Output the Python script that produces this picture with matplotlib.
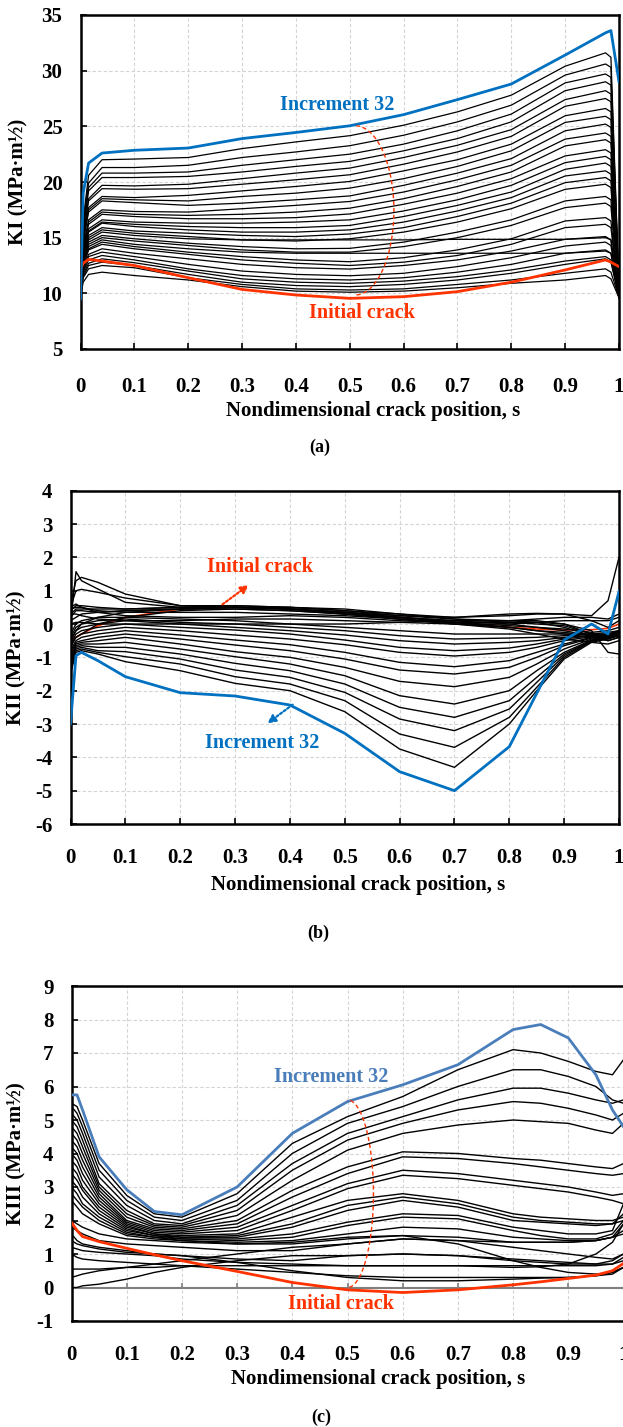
import matplotlib.pyplot as plt
import numpy as np

# ================= data =================
# (a) KI, positions along the crack front
S_A = [0, 0.005, 0.015, 0.04, 0.1, 0.2, 0.3, 0.4, 0.5, 0.6, 0.7, 0.8, 0.9, 0.975, 0.985, 1.0]
KI_INITIAL = [12.2, 12.7, 13.05, 12.9, 12.5, 11.4, 10.35, 9.85, 9.55, 9.7, 10.15, 11.0, 12.1, 13.0, 12.8, 12.4]
KI_INC32 = [9.5, 19.0, 21.7, 22.6, 22.85, 23.05, 23.9, 24.45, 25.05, 26.05, 27.4, 28.8, 31.4, 33.4, 33.6, 29.0]
KI_STEPS = [
    [9.7, 16.6, 20.6, 22.0, 22.06, 22.2, 23.0, 23.6, 24.16, 25.1, 26.3, 27.8, 30.4, 31.6, 31.2, 10.5],
    [9.7, 16.2, 19.9, 21.3, 21.3, 21.5, 22.2, 22.7, 23.26, 24.2, 25.4, 26.9, 29.6, 30.6, 30.3, 10.4],
    [9.7, 15.9, 19.5, 20.8, 20.8, 20.9, 21.5, 22.0, 22.5, 23.4, 24.6, 26.1, 28.9, 29.7, 29.4, 10.3],
    [9.7, 15.7, 19.2, 20.4, 20.4, 20.5, 20.9, 21.4, 21.85, 22.8, 23.9, 25.4, 28.2, 29.0, 28.7, 10.3],
    [9.7, 15.3, 18.5, 19.7, 19.65, 19.8, 20.3, 20.8, 21.25, 22.2, 23.3, 24.7, 27.4, 28.2, 27.9, 10.2],
    [9.7, 15.2, 18.3, 19.4, 19.35, 19.4, 19.8, 20.2, 20.65, 21.6, 22.7, 24.1, 26.8, 27.5, 27.2, 10.2],
    [9.7, 14.8, 17.7, 18.7, 18.6, 18.8, 19.2, 19.6, 20.05, 21.0, 22.0, 23.4, 25.95, 26.6, 26.3, 10.1],
    [9.7, 14.7, 17.5, 18.5, 18.4, 18.3, 18.7, 19.0, 19.45, 20.3, 21.4, 22.8, 25.35, 25.9, 25.6, 10.1],
    [9.7, 14.6, 17.3, 18.3, 18.15, 17.9, 18.1, 18.4, 18.75, 19.7, 20.8, 22.1, 24.6, 25.2, 24.9, 10.0],
    [9.7, 14.1, 16.6, 17.5, 17.35, 17.3, 17.6, 17.9, 18.25, 19.1, 20.2, 21.5, 23.85, 24.4, 24.1, 10.0],
    [9.7, 14.0, 16.4, 17.3, 17.1, 17.0, 17.1, 17.3, 17.65, 18.5, 19.6, 20.9, 23.24, 23.8, 23.5, 10.0],
    [9.7, 13.9, 16.2, 17.1, 16.9, 16.7, 16.7, 16.8, 17.13, 18.0, 19.0, 20.3, 22.34, 22.9, 22.6, 9.9],
    [9.7, 13.6, 15.8, 16.6, 16.4, 16.3, 16.3, 16.4, 16.6, 17.4, 18.4, 19.7, 21.74, 22.3, 22.0, 9.9],
    [9.7, 13.5, 15.6, 16.4, 16.2, 16.0, 15.9, 15.9, 16.1, 16.9, 17.9, 19.1, 21.14, 21.7, 21.4, 9.9],
    [9.7, 13.5, 15.5, 16.3, 16.0, 15.7, 15.5, 15.5, 15.7, 16.4, 17.4, 18.6, 20.54, 21.0, 20.7, 9.8],
    [9.7, 13.2, 15.2, 15.9, 15.6, 15.4, 15.2, 15.1, 15.33, 15.9, 16.9, 18.1, 19.94, 20.4, 20.1, 9.8],
    [9.7, 13.1, 15.0, 15.7, 15.4, 15.1, 14.8, 14.7, 14.9, 15.5, 16.4, 17.6, 19.34, 19.8, 19.5, 9.8],
    [9.7, 13.0, 14.8, 15.5, 15.2, 14.9, 14.8, 14.8, 14.8, 14.8, 14.85, 14.85, 14.85, 15.0, 14.8, 9.8],
    [9.7, 12.9, 14.6, 15.2, 14.9, 14.5, 14.2, 14.0, 14.04, 14.6, 15.5, 16.6, 18.3, 18.7, 18.4, 9.7],
    [9.7, 12.75, 14.4, 15.0, 14.7, 14.3, 13.9, 13.7, 13.7, 14.2, 15.0, 16.1, 17.7, 18.1, 17.8, 9.7],
    [9.7, 12.6, 14.2, 14.8, 14.4, 14.0, 13.7, 13.6, 13.6, 13.6, 13.6, 13.6, 13.6, 13.8, 13.6, 9.7],
    [9.7, 12.5, 14.0, 14.6, 14.2, 13.7, 13.3, 13.0, 12.84, 13.2, 13.9, 14.9, 16.5, 16.8, 16.5, 9.7],
    [9.7, 12.4, 13.9, 14.4, 14.0, 13.5, 13.0, 12.7, 12.5, 12.8, 13.4, 14.4, 15.9, 16.2, 15.9, 9.7],
    [9.7, 12.2, 13.5, 14.0, 13.6, 13.1, 12.6, 12.3, 12.18, 12.5, 13.0, 13.8, 14.85, 15.1, 14.8, 9.6],
    [9.7, 12.0, 13.3, 13.7, 13.3, 12.6, 12.0, 11.7, 11.58, 11.8, 12.4, 13.2, 14.25, 14.6, 14.3, 9.6],
    [9.7, 11.9, 13.0, 13.4, 13.0, 12.2, 11.6, 11.3, 11.2, 11.4, 11.9, 12.6, 13.6, 13.9, 13.6, 9.6],
    [9.7, 11.7, 12.7, 13.1, 12.75, 12.0, 11.3, 11.0, 10.9, 11.1, 11.5, 12.1, 12.9, 13.3, 13.0, 9.6],
    [9.7, 11.5, 12.5, 12.8, 12.5, 11.7, 11.0, 10.7, 10.6, 10.8, 11.2, 11.8, 12.6, 13.1, 12.8, 9.6],
    [9.7, 11.4, 12.2, 12.5, 12.3, 11.4, 10.8, 10.4, 10.3, 10.4, 10.8, 11.2, 11.8, 12.2, 11.9, 9.6],
    [9.7, 11.0, 11.7, 11.9, 11.6, 11.2, 10.6, 10.2, 10.1, 10.2, 10.5, 10.9, 11.2, 11.6, 11.3, 9.6],
]

# (b) KII
S_B = [0, 0.01, 0.02, 0.05, 0.1, 0.2, 0.3, 0.4, 0.5, 0.6, 0.7, 0.8, 0.85, 0.9, 0.95, 0.98, 1.0]
KII_INITIAL = [-0.45, -0.4, -0.3, -0.05, 0.2, 0.45, 0.5, 0.45, 0.35, 0.2, 0.05, -0.1, -0.15, -0.18, -0.17, -0.13, 0.0]
KII_INC32 = [-3.0, -0.95, -0.85, -1.1, -1.58, -2.06, -2.16, -2.43, -3.28, -4.43, -5.0, -3.68, -2.08, -0.48, 0.0, -0.3, 0.97]
KII_STEPS = [
    [0.0, 1.57, 1.3, 1.05, 0.65, 0.5, 0.5, 0.45, 0.35, 0.2, 0.1, 0.1, 0.1, 0.0, -0.3, -0.4, -0.3],
    [0.6, 1.3, 1.4, 1.25, 0.9, 0.55, 0.55, 0.5, 0.4, 0.25, 0.15, 0.1, 0.05, -0.1, -0.35, -0.5, -0.4],
    [0.5, 1.0, 1.04, 0.95, 0.78, 0.55, 0.5, 0.5, 0.45, 0.3, 0.2, 0.25, 0.3, 0.3, 0.25, 0.7, 2.0],
    [0.4, 0.55, 0.55, 0.5, 0.45, 0.5, 0.55, 0.5, 0.4, 0.3, 0.15, 0.05, 0.0, -0.05, -0.3, -0.35, -0.2],
    [0.3, 0.45, 0.45, 0.45, 0.45, 0.5, 0.5, 0.45, 0.35, 0.25, 0.2, 0.3, 0.32, 0.3, 0.1, -0.1, 0.1],
    [0.2, 0.4, 0.4, 0.35, 0.4, 0.45, 0.5, 0.45, 0.3, 0.2, 0.1, 0.0, -0.1, -0.2, -0.35, -0.4, -0.3],
    [-0.5, -0.2, 0.0, 0.2, 0.35, 0.45, 0.5, 0.45, 0.35, 0.2, 0.05, -0.1, -0.2, -0.3, -0.4, -0.5, -0.4],
    [-0.6, -0.4, -0.3, 0.0, 0.2, 0.4, 0.45, 0.4, 0.3, 0.15, 0.0, -0.15, -0.3, -0.45, -0.55, -0.6, -0.5],
    [0.3, 0.3, 0.25, 0.15, 0.1, 0.1, 0.15, 0.15, 0.1, 0.05, 0.0, 0.0, 0.05, 0.1, 0.1, 0.1, 0.2],
    [0.0, 0.05, 0.05, 0.0, 0.0, 0.0, 0.0, 0.0, 0.0, 0.05, 0.1, 0.1, 0.15, 0.2, 0.2, 0.15, 0.3],
    [0.5, 0.6, 0.5, 0.35, 0.25, 0.2, 0.2, 0.25, 0.2, 0.1, 0.05, 0.05, 0.05, 0.0, -0.2, -0.85, -0.9],
    [0.45, 0.5, 0.5, 0.4, 0.35, 0.35, 0.35, 0.3, 0.25, 0.15, 0.05, -0.05, -0.1, -0.15, -0.25, -0.2, -0.1],
    [0.1, 0.2, 0.3, 0.35, 0.4, 0.45, 0.45, 0.4, 0.3, 0.15, 0.0, -0.1, -0.2, -0.25, -0.35, -0.45, -0.3],
    [-0.3, 0.0, 0.1, 0.2, 0.2, 0.15, 0.1, 0.0, -0.1, -0.2, -0.3, -0.3, -0.3, -0.3, -0.3, -0.25, -0.2],
    [-0.4, -0.1, 0.0, 0.1, 0.15, 0.05, 0.0, -0.1, -0.2, -0.35, -0.45, -0.42, -0.4, -0.35, -0.3, -0.3, -0.2],
    [-0.5, -0.2, -0.1, 0.0, 0.1, 0.0, -0.1, -0.2, -0.33, -0.5, -0.6, -0.55, -0.5, -0.4, -0.35, -0.3, -0.25],
    [-0.6, -0.3, -0.2, -0.1, 0.0, -0.1, -0.18, -0.3, -0.48, -0.7, -0.8, -0.72, -0.6, -0.45, -0.35, -0.3, -0.3],
    [-0.7, -0.4, -0.3, -0.2, -0.1, -0.2, -0.33, -0.45, -0.62, -0.85, -0.96, -0.85, -0.7, -0.5, -0.38, -0.32, -0.3],
    [-0.8, -0.5, -0.4, -0.3, -0.2, -0.33, -0.48, -0.62, -0.85, -1.15, -1.28, -1.1, -0.85, -0.6, -0.4, -0.35, -0.3],
    [-0.9, -0.55, -0.5, -0.4, -0.3, -0.45, -0.63, -0.8, -1.05, -1.38, -1.5, -1.3, -1.0, -0.65, -0.42, -0.35, -0.3],
    [-1.0, -0.6, -0.55, -0.5, -0.4, -0.6, -0.83, -1.0, -1.3, -1.72, -1.88, -1.6, -1.2, -0.75, -0.45, -0.38, -0.35],
    [-1.1, -0.65, -0.6, -0.6, -0.55, -0.75, -0.98, -1.2, -1.55, -2.15, -2.4, -2.0, -1.4, -0.85, -0.48, -0.4, -0.35],
    [-1.2, -0.7, -0.65, -0.7, -0.7, -0.9, -1.18, -1.4, -1.8, -2.5, -2.8, -2.3, -1.6, -0.9, -0.5, -0.4, -0.35],
    [-1.3, -0.75, -0.7, -0.8, -0.83, -1.05, -1.38, -1.6, -2.05, -2.85, -3.2, -2.55, -1.75, -0.95, -0.5, -0.42, -0.35],
    [-1.4, -0.8, -0.75, -0.85, -0.98, -1.2, -1.58, -1.8, -2.3, -3.3, -3.7, -2.8, -1.9, -1.0, -0.52, -0.42, -0.35],
    [-1.5, -0.85, -0.8, -0.9, -1.13, -1.4, -1.78, -2.0, -2.63, -3.75, -4.3, -3.0, -2.0, -1.05, -0.55, -0.45, -0.35],
]

# (c) KIII
S_C = [0, 0.01, 0.02, 0.05, 0.1, 0.15, 0.2, 0.3, 0.4, 0.5, 0.6, 0.7, 0.8, 0.85, 0.9, 0.95, 0.98, 1.0]
KIII_INITIAL = [1.94, 1.7, 1.52, 1.37, 1.17, 0.98, 0.8, 0.48, 0.15, -0.07, -0.15, -0.07, 0.08, 0.17, 0.27, 0.37, 0.5, 0.72]
KIII_INC32 = [5.75, 5.75, 5.3, 3.9, 2.92, 2.27, 2.17, 3.0, 4.6, 5.55, 6.05, 6.65, 7.7, 7.85, 7.45, 6.35, 5.3, 4.8]
KIII_STEPS = [
    [5.5, 5.4, 5.0, 3.7, 2.75, 2.2, 2.1, 2.8, 4.3, 5.1, 5.7, 6.5, 7.1, 7.0, 6.75, 6.45, 6.35, 6.8],
    [5.4, 5.2, 4.8, 3.5, 2.6, 2.1, 2.0, 2.6, 4.0, 4.9, 5.4, 6.0, 6.5, 6.5, 6.3, 6.0, 5.6, 5.5],
    [5.2, 5.0, 4.6, 3.3, 2.45, 2.0, 1.9, 2.45, 3.7, 4.6, 5.1, 5.6, 5.95, 5.95, 5.8, 5.6, 5.5, 5.6],
    [5.0, 4.8, 4.4, 3.1, 2.3, 1.9, 1.85, 2.3, 3.5, 4.4, 4.9, 5.3, 5.55, 5.5, 5.35, 5.15, 5.0, 5.2],
    [4.8, 4.6, 4.2, 3.0, 2.2, 1.85, 1.8, 2.15, 3.2, 4.1, 4.6, 4.85, 5.0, 4.95, 4.9, 4.7, 4.6, 4.9],
    [4.6, 4.4, 4.0, 2.9, 2.1, 1.8, 1.75, 2.0, 2.9, 3.6, 4.05, 4.0, 3.85, 3.8, 3.7, 3.6, 3.55, 3.7],
    [4.4, 4.2, 3.8, 2.8, 2.0, 1.75, 1.7, 1.9, 2.7, 3.4, 3.9, 3.85, 3.7, 3.6, 3.5, 3.4, 3.35, 3.4],
    [4.2, 4.0, 3.6, 2.7, 1.95, 1.7, 1.65, 1.8, 2.45, 3.1, 3.5, 3.4, 3.2, 3.1, 3.0, 2.85, 2.75, 2.8],
    [4.0, 3.8, 3.4, 2.6, 1.9, 1.65, 1.6, 1.7, 2.3, 2.95, 3.35, 3.25, 3.05, 2.95, 2.85, 2.7, 2.6, 2.5],
    [3.8, 3.6, 3.2, 2.5, 1.85, 1.6, 1.55, 1.6, 2.1, 2.6, 2.8, 2.6, 2.2, 2.1, 2.05, 2.0, 2.0, 2.1],
    [3.6, 3.4, 3.0, 2.4, 1.8, 1.6, 1.5, 1.55, 1.9, 2.45, 2.7, 2.5, 2.1, 2.0, 1.95, 1.9, 1.9, 2.0],
    [3.4, 3.2, 2.9, 2.3, 1.75, 1.55, 1.5, 1.5, 1.8, 2.3, 2.6, 2.4, 2.0, 1.95, 1.9, 1.85, 1.9, 2.2],
    [3.2, 3.0, 2.7, 2.2, 1.7, 1.55, 1.45, 1.45, 1.6, 1.95, 2.2, 2.15, 1.8, 1.7, 1.6, 1.6, 1.7, 2.5],
    [3.0, 2.8, 2.5, 2.1, 1.65, 1.5, 1.45, 1.4, 1.5, 1.85, 2.1, 2.05, 1.7, 1.55, 1.45, 1.45, 1.6, 2.0],
    [2.8, 2.6, 2.4, 2.0, 1.6, 1.5, 1.4, 1.35, 1.4, 1.6, 1.8, 1.75, 1.5, 1.45, 1.4, 1.4, 1.5, 1.9],
    [2.6, 2.4, 2.2, 1.9, 1.55, 1.45, 1.4, 1.3, 1.3, 1.45, 1.55, 1.5, 1.35, 1.35, 1.35, 1.4, 1.5, 1.6],
    [2.0, 1.9, 1.8, 1.6, 1.45, 1.4, 1.35, 1.3, 1.35, 1.5, 1.55, 1.3, 0.8, 0.6, 0.45, 0.4, 0.45, 0.6],
    [1.2, 1.15, 1.1, 1.05, 1.0, 0.95, 0.85, 0.75, 0.7, 0.65, 0.65, 0.65, 0.6, 0.62, 0.7, 1.0, 1.35, 1.9],
    [1.8, 1.7, 1.6, 1.4, 1.3, 1.25, 1.2, 1.1, 1.1, 1.3, 1.45, 1.4, 1.35, 1.35, 1.35, 1.4, 1.5, 1.7],
    [1.4, 1.3, 1.25, 1.15, 1.05, 1.0, 0.95, 0.85, 0.8, 0.95, 1.0, 0.95, 0.8, 0.75, 0.7, 0.7, 0.8, 1.0],
    [0.3, 0.35, 0.4, 0.5, 0.6, 0.7, 0.8, 1.0, 1.2, 1.3, 1.45, 1.4, 1.2, 1.1, 1.0, 0.9, 0.85, 1.0],
    [0.0, 0.0, 0.05, 0.1, 0.25, 0.45, 0.6, 0.8, 0.95, 0.95, 1.0, 0.95, 0.85, 0.8, 0.75, 0.7, 0.7, 0.8],
    [0.55, 0.55, 0.55, 0.55, 0.6, 0.6, 0.65, 0.65, 0.65, 0.65, 0.65, 0.65, 0.65, 0.65, 0.65, 0.65, 0.7, 0.9],
    [1.0, 0.9, 0.85, 0.8, 0.75, 0.7, 0.65, 0.55, 0.45, 0.35, 0.3, 0.3, 0.3, 0.3, 0.3, 0.35, 0.4, 0.6],
    [1.6, 1.4, 1.3, 1.2, 1.1, 1.0, 0.95, 0.75, 0.5, 0.3, 0.2, 0.2, 0.25, 0.28, 0.3, 0.35, 0.45, 0.6],
]

X_TICKS = [0, 0.1, 0.2, 0.3, 0.4, 0.5, 0.6, 0.7, 0.8, 0.9, 1.0]
X_TICKLABELS = ['0', '0.1', '0.2', '0.3', '0.4', '0.5', '0.6', '0.7', '0.8', '0.9', '1']
# ============================================================

plt.rcParams['font.family'] = ['Liberation Serif', 'DejaVu Serif']
plt.rcParams['font.weight'] = 'bold'
plt.rcParams['axes.unicode_minus'] = False

BLUE = '#0070C0'
BLUE_C = '#4A7EBB'
RED = '#FF3300'
W, H = 623, 1427

fig = plt.figure(figsize=(W / 100, H / 100), dpi=100)


def px_axes(x0, x1, y0, y1):
    # pixel box (top-left origin) -> figure axes
    return fig.add_axes([x0 / W, 1 - y1 / H, (x1 - x0) / W, (y1 - y0) / H])


def style(ax, ylim, yticks, xpad, ylab, ylab_x):
    ax.set_xlim(0, 1)
    ax.set_ylim(*ylim)
    ax.set_xticks(X_TICKS)
    ax.set_xticklabels(X_TICKLABELS)
    ax.set_yticks(yticks)
    ax.set_axisbelow(True)
    ax.grid(True, color='#D4D4D4', linestyle=(0, (3, 2)), linewidth=0.8)
    ax.tick_params(axis='both', direction='in', length=4, width=1.2, labelsize=15)
    ax.tick_params(axis='x', pad=xpad)
    ax.tick_params(axis='y', pad=13)
    for sp in ax.spines.values():
        sp.set_linewidth(1.8)
    ax.set_ylabel(ylab, fontsize=15, fontweight='bold')
    ax.yaxis.set_label_coords(ylab_x, 0.5)


def dashed_arc(ax, cx, cy, a, b, t0, t1):
    # red dashed guide through the curves (annotation, not data)
    t = np.radians(np.linspace(t0, t1, 80))
    ax.plot(cx + a * np.cos(t), cy + b * np.sin(t), color=RED, lw=1.0,
            linestyle=(0, (3, 2)), zorder=4)


def fig_text(x, y, s, **kw):
    fig.text(x / W, 1 - y / H, s, ha='center', va='center', fontweight='bold', **kw)


# ---------------- (a) KI ----------------
ax = px_axes(80.5, 619, 15, 349)
for row in KI_STEPS:
    ax.plot(S_A, row, color='black', lw=0.9, zorder=2)
ax.plot(S_A, KI_INITIAL, color=RED, lw=2.0, zorder=3)
ax.plot(S_A, KI_INC32, color=BLUE, lw=2.0, zorder=3)
style(ax, (5, 35), range(5, 36, 5), 20, 'KI (MPa·m½)', -0.0975)
dashed_arc(ax, 0.51, 17.45, 0.072, 7.6, -88, 88)
ax.text(0.476, 26.9, 'Increment 32', color=BLUE, fontsize=14.5, fontweight='bold',
        ha='center', va='center')
ax.text(0.523, 8.2, 'Initial crack', color=RED, fontsize=14.5, fontweight='bold',
        ha='center', va='center')
fig_text(373, 411, 'Nondimensional crack position, s', fontsize=15)
fig_text(320, 447, '(a)', fontsize=13)

# ---------------- (b) KII ----------------
ax = px_axes(70.5, 619, 490.7, 824)
ax.plot(S_B, KII_INITIAL, color=RED, lw=1.2, zorder=1.5)
for row in KII_STEPS:
    ax.plot(S_B, row, color='black', lw=1.0, zorder=2)
ax.plot(S_B, KII_INC32, color=BLUE, lw=2.0, zorder=3)
style(ax, (-6, 4), range(-6, 5), 17, 'KII (MPa·m½)', -0.081)
ax.text(0.345, 1.71, 'Initial crack', color=RED, fontsize=14.5, fontweight='bold',
        ha='center', va='center')
ax.text(0.349, -3.57, 'Increment 32', color=BLUE, fontsize=14.5, fontweight='bold',
        ha='center', va='center')
ax.annotate('', xy=(0.329, 1.22), xytext=(0.273, 0.54),
            arrowprops=dict(arrowstyle='-|>', color=RED, lw=1.6,
                            linestyle=(0, (1, 1)), mutation_scale=12))
ax.annotate('', xy=(0.355, -3.03), xytext=(0.409, -2.37),
            arrowprops=dict(arrowstyle='-|>', color=BLUE, lw=1.6,
                            linestyle=(0, (1, 1)), mutation_scale=12))
fig_text(358, 885, 'Nondimensional crack position, s', fontsize=15)
fig_text(318, 933, '(b)', fontsize=13)

# ---------------- (c) KIII ----------------
ax = px_axes(71.5, 623.5, 986, 1321)
for row in KIII_STEPS:
    ax.plot(S_C, row, color='black', lw=1.0, zorder=2)
ax.plot(S_C, KIII_INITIAL, color=RED, lw=2.0, zorder=3)
ax.plot(S_C, KIII_INC32, color=BLUE_C, lw=2.0, zorder=3)
style(ax, (-1, 9), range(-1, 10), 17, 'KIII (MPa·m½)', -0.0824)
ax.tick_params(axis='x', length=0)
# category axis crossing at zero, with its small tick marks
ax.axhline(0, color='#7F7F7F', lw=1.5, zorder=1.8)
ax.vlines(X_TICKS[1:-1], 0, 0.13, color='#7F7F7F', lw=1.2, zorder=1.8)
dashed_arc(ax, 0.5, 2.8, 0.047, 2.8, -86, 90)
ax.text(0.47, 6.28, 'Increment 32', color=BLUE_C, fontsize=14.5, fontweight='bold',
        ha='center', va='center')
ax.text(0.488, -0.49, 'Initial crack', color=RED, fontsize=14.5, fontweight='bold',
        ha='center', va='center')
fig_text(378, 1379, 'Nondimensional crack position, s', fontsize=15)
fig_text(321, 1417, '(c)', fontsize=13)

fig.savefig('out.png', dpi=100)
